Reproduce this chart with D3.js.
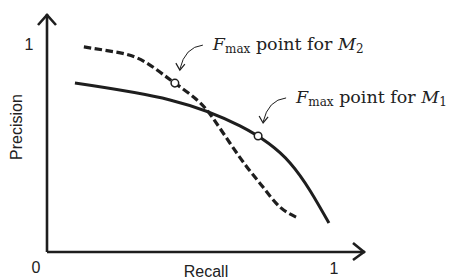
<!DOCTYPE html>
<html>
<head>
<meta charset="utf-8">
<script src="https://cdn.jsdelivr.net/npm/d3@7"></script>
<style>
  html, body { margin: 0; padding: 0; background: #fff; }
  .lbl { font-family: "Liberation Sans", Arial, sans-serif; font-size: 16px; fill: #222; }
</style>
</head>
<body>
<svg id="chart" width="463" height="280"></svg>
<script>
// PR curves (recall, precision)
const m1Recall = [0.097, 0.427, 0.670, 0.844, 0.979];
const m1Precision = [0.812, 0.731, 0.606, 0.428, 0.139];
const m2Recall = [0.128, 0.219, 0.313, 0.392, 0.444, 0.521, 0.576, 0.635, 0.694, 0.750, 0.809, 0.872];
const m2Precision = [0.986, 0.966, 0.933, 0.865, 0.812, 0.731, 0.644, 0.524, 0.409, 0.312, 0.216, 0.163];
// F_max points
const fmaxPoints = [
  { model: "1", recall: 0.733, precision: 0.558 },
  { model: "2", recall: 0.444, precision: 0.812 },
];
const tickLabels = ["0", "1"];

const svg = d3.select("#chart");
const x = d3.scaleLinear().domain([0, 1]).range([47, 335]);
const y = d3.scaleLinear().domain([0, 1]).range([252, 44]);
const ink = "#1e1e1e";

const zip = (a, b) => a.map((v, i) => [v, b[i]]);
const line = d3.line().x((d) => x(d[0])).y((d) => y(d[1])).curve(d3.curveNatural);

// axes with open arrowheads
const x0 = x(0), y0 = y(0), yTop = 14, xEnd = 365;
svg.append("path")
  .attr("d", `M${x0},${y0}V${yTop}M${x0},${y0}H${xEnd}`)
  .attr("fill", "none").attr("stroke", ink).attr("stroke-width", 2.6);
svg.append("path")
  .attr("d", `M${x0 - 9},${yTop + 11}L${x0},${yTop + 1}L${x0 + 9},${yTop + 11}` +
             `M${xEnd - 12},${y0 - 9}L${xEnd - 1},${y0}L${xEnd - 12},${y0 + 8}`)
  .attr("fill", "none").attr("stroke", ink).attr("stroke-width", 2.6)
  .attr("stroke-linejoin", "miter");

// tick labels
svg.append("text").attr("class", "lbl").attr("x", 36).attr("y", 273)
  .attr("text-anchor", "middle").text(tickLabels[0]);
svg.append("text").attr("class", "lbl").attr("x", x(1) - 1).attr("y", 274)
  .attr("text-anchor", "middle").text(tickLabels[1]);
svg.append("text").attr("class", "lbl").attr("x", 29).attr("y", y(1) + 6)
  .attr("text-anchor", "middle").text(tickLabels[1]);

svg.append("text").attr("class", "lbl").attr("x", 206).attr("y", 277)
  .attr("text-anchor", "middle").text("Recall");
svg.append("text").attr("class", "lbl")
  .attr("transform", "translate(22,127) rotate(-90)")
  .attr("text-anchor", "middle").text("Precision");

// curves
svg.append("path").attr("d", line(zip(m1Recall, m1Precision)))
  .attr("fill", "none").attr("stroke", ink).attr("stroke-width", 3);
svg.append("path").attr("d", line(zip(m2Recall, m2Precision)))
  .attr("fill", "none").attr("stroke", ink).attr("stroke-width", 3.2)
  .attr("stroke-dasharray", "7.5,3.5");

// F_max markers
svg.selectAll("circle.fmax").data(fmaxPoints).enter().append("circle")
  .attr("class", "fmax")
  .attr("cx", (d) => x(d.recall)).attr("cy", (d) => y(d.precision))
  .attr("r", 3.8).attr("fill", "#fff").attr("stroke", ink).attr("stroke-width", 1.5);

// annotations: curved arrow + label, placed relative to the marker
const ann = svg.selectAll("g.ann").data(fmaxPoints).enter().append("g")
  .attr("class", "ann")
  .attr("transform", (d) => `translate(${x(d.recall)},${y(d.precision)})`);
ann.append("path")
  .attr("d", "M28,-38 Q10,-36 5,-14")
  .attr("fill", "none").attr("stroke", ink).attr("stroke-width", 1);
ann.append("path")
  .attr("d", "M1,-20 L5,-13 L10,-19")
  .attr("fill", "none").attr("stroke", ink).attr("stroke-width", 1.2);
const t = ann.append("text")
  .attr("x", 38).attr("y", -33)
  .style("font-family", "'DejaVu Serif', serif")
  .attr("font-size", 17.5).attr("fill", "#222");
t.append("tspan").attr("font-style", "italic").text("F");
t.append("tspan").attr("font-size", 12).attr("dy", 3).text("max");
t.append("tspan").attr("dy", -3).text(" point for ");
t.append("tspan").attr("font-style", "italic").text("M");
t.append("tspan").attr("font-size", 12).attr("dy", 3).text((d) => d.model);
</script>
</body>
</html>
